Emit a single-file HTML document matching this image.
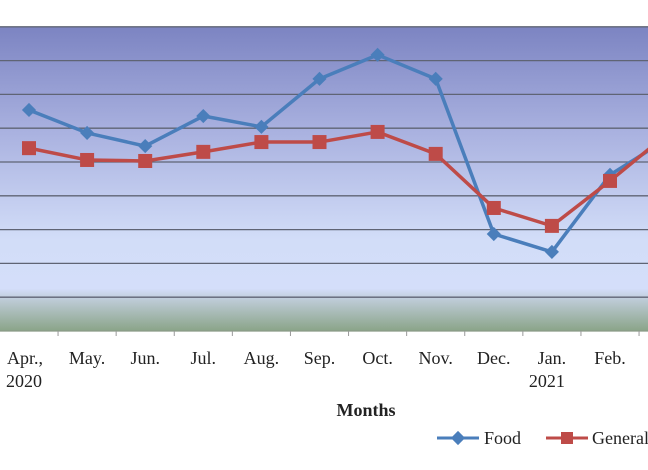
<!DOCTYPE html>
<html><head><meta charset="utf-8"><style>
html,body{margin:0;padding:0;background:#fff;width:648px;height:470px;overflow:hidden}
svg{display:block;font-family:"Liberation Serif",serif}
</style></head><body>
<svg id="chart" width="648" height="470" viewBox="0 0 648 470">
<defs>
<linearGradient id="bg" x1="0" y1="0" x2="0" y2="1">
<stop offset="0" stop-color="#7c84c2"/>
<stop offset="0.35" stop-color="#aab2e0"/>
<stop offset="0.7" stop-color="#d2ddf8"/>
<stop offset="0.86" stop-color="#d4defa"/>
<stop offset="0.9" stop-color="#bccad4"/>
<stop offset="1" stop-color="#8aa488"/>
</linearGradient>
</defs>
<rect x="0" y="27" width="648" height="304" fill="url(#bg)"/>
<g id="grid"></g><g id="xaxis"></g><g id="series"></g>
<text x="366" y="416" text-anchor="middle" font-size="18" font-weight="bold" fill="#222">Months</text>
<g>
<g>
<line x1="437" y1="438" x2="479" y2="438" stroke="#4a7ebb" stroke-width="3"/>
<rect x="453" y="433" width="10" height="10" fill="#4a7ebb" transform="rotate(45 458 438)"/>
<text x="484" y="444" font-size="18" fill="#222">Food</text>
</g>
<g>
<line x1="546" y1="438" x2="588" y2="438" stroke="#be4b48" stroke-width="3"/>
<rect x="561" y="432" width="12" height="12" fill="#be4b48"/>
<text x="592" y="444" font-size="18" fill="#222">General</text>
</g>
</g>
</svg>
<script>
const categories=["Apr.,","May.","Jun.","Jul.","Aug.","Sep.","Oct.","Nov.","Dec.","Jan.","Feb.","Mar."];
const years=["2020","","","","","","","","","2021","",""];
const food=[6.54,5.86,5.47,6.36,6.04,7.46,8.17,7.46,2.87,2.34,4.62,5.7];
const general=[5.41,5.06,5.03,5.30,5.59,5.59,5.89,5.24,3.64,3.11,4.44,5.85];
const gridTicks=[0,1,2,3,4,5,6,7,8,9];
const NS="http://www.w3.org/2000/svg";
const x0=29,dx=58.1,yb=331,dy=33.8;
const X=i=>x0+i*dx, Y=v=>yb-v*dy;
function mk(t,a,p){const e=document.createElementNS(NS,t);for(const k in a)e.setAttribute(k,a[k]);p.appendChild(e);return e;}
const grid=document.getElementById('grid');
gridTicks.forEach(v=>{const l=mk('line',{x1:0,x2:648,y1:Y(v),y2:Y(v),stroke:v===0?'#8a9a88':'#5f6474','stroke-width':1.3},grid);

});
const xa=document.getElementById('xaxis');
categories.forEach((c,i)=>{
const tk=mk('line',{x1:X(i)+dx/2,x2:X(i)+dx/2,y1:331,y2:336,stroke:'#999'},xa);


const t=mk('text',{x:i===0?X(i)-4:X(i),y:364,'text-anchor':'middle','font-size':18,fill:'#222'},xa);t.textContent=c;


if(years[i]){const y=mk('text',{x:X(i)-5,y:387,'text-anchor':'middle','font-size':18,fill:'#222'},xa);y.textContent=years[i];

}
});
const sg=document.getElementById('series');
function draw(vals,col,name,shape){
const pl=mk('polyline',{points:vals.map((v,i)=>X(i)+','+Y(v)).join(' '),fill:'none',stroke:col,'stroke-width':3.5,'stroke-linejoin':'round'},sg);


vals.forEach((v,i)=>{let m;
if(shape==='d'){m=mk('rect',{x:X(i)-5,y:Y(v)-5,width:10,height:10,fill:col,transform:`rotate(45 ${X(i)} ${Y(v)})`},sg);}
else{m=mk('rect',{x:X(i)-7,y:Y(v)-7,width:14,height:14,fill:col},sg);}

});
}
draw(food,'#4a7ebb','food','d');
draw(general,'#be4b48','general','s');
</script>
</body></html>
